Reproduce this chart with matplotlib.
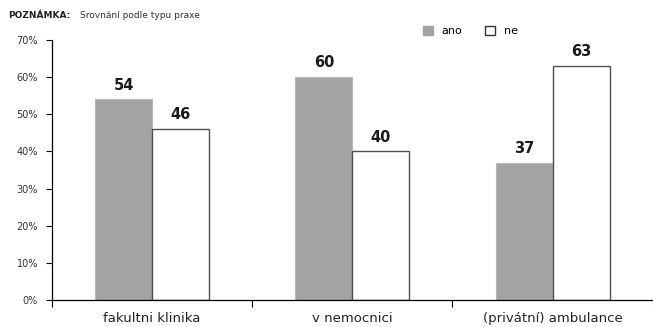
import numpy as np
import matplotlib.pyplot as plt
from matplotlib.patches import Patch

# Survey answers by type of practice (percent)
categories = ['fakultni klinika', 'v nemocnici', '(privátní) ambulance']
ano = [54, 60, 37]
ne = [46, 40, 63]
yticks = [0, 10, 20, 30, 40, 50, 60, 70]

plt.rcParams['font.family'] = 'DejaVu Sans'

fig = plt.figure(figsize=(6.53, 3.27), dpi=100)
ax = fig.add_axes([0.0796, 0.0826, 0.92, 0.795])

x = np.arange(len(categories))
w = 0.285
gray = '#a3a3a6'
b1 = ax.bar(x - w/2, ano, w, color=gray, edgecolor='#b8b8ba', linewidth=0.8)
b2 = ax.bar(x + w/2, ne, w, color='white', edgecolor='#505050', linewidth=1.0)

for bars, vals in ((b1, ano), (b2, ne)):
    for r, v in zip(bars, vals):
        ax.text(r.get_x() + r.get_width()/2, v + 1.8, str(v), ha='center', va='bottom',
                fontsize=10.5, fontweight='bold', color='#1a1a1a')

ax.set_xlim(-0.5, len(categories) - 0.5)
ax.set_ylim(0, 70)
ax.set_yticks(yticks)
ax.set_yticklabels([f'{t}%' for t in yticks], fontsize=7, color='#333333')
ax.set_xticks(x)
ax.set_xticklabels(categories, fontsize=9.5, color='#222222')
ax.tick_params(axis='x', length=0, pad=9)
ax.tick_params(axis='y', length=4, width=0.8, pad=6)
# separator ticks between groups
ax.set_xticks(np.arange(len(categories) + 1) - 0.5, minor=True)
ax.tick_params(axis='x', which='minor', length=5, width=0.8)

for s in ('top', 'right'):
    ax.spines[s].set_visible(False)
ax.spines['left'].set_linewidth(0.9)
ax.spines['bottom'].set_linewidth(0.9)

fig.text(0.012, 0.945, 'POZNÁMKA:', fontsize=6.5, fontweight='bold', color='#222222')
fig.text(0.122, 0.945, 'Srovnání podle typu praxe', fontsize=6.5, color='#333333')

handles = [Patch(facecolor=gray, edgecolor=gray), Patch(facecolor='white', edgecolor='#333333')]
fig.legend(handles, ['ano', 'ne'], loc='center', bbox_to_anchor=(0.72, 0.905), ncol=2,
           frameon=False, fontsize=8, handlelength=0.9, handleheight=0.9,
           columnspacing=2.0, handletextpad=0.8)

fig.savefig('out.png', dpi=100)
